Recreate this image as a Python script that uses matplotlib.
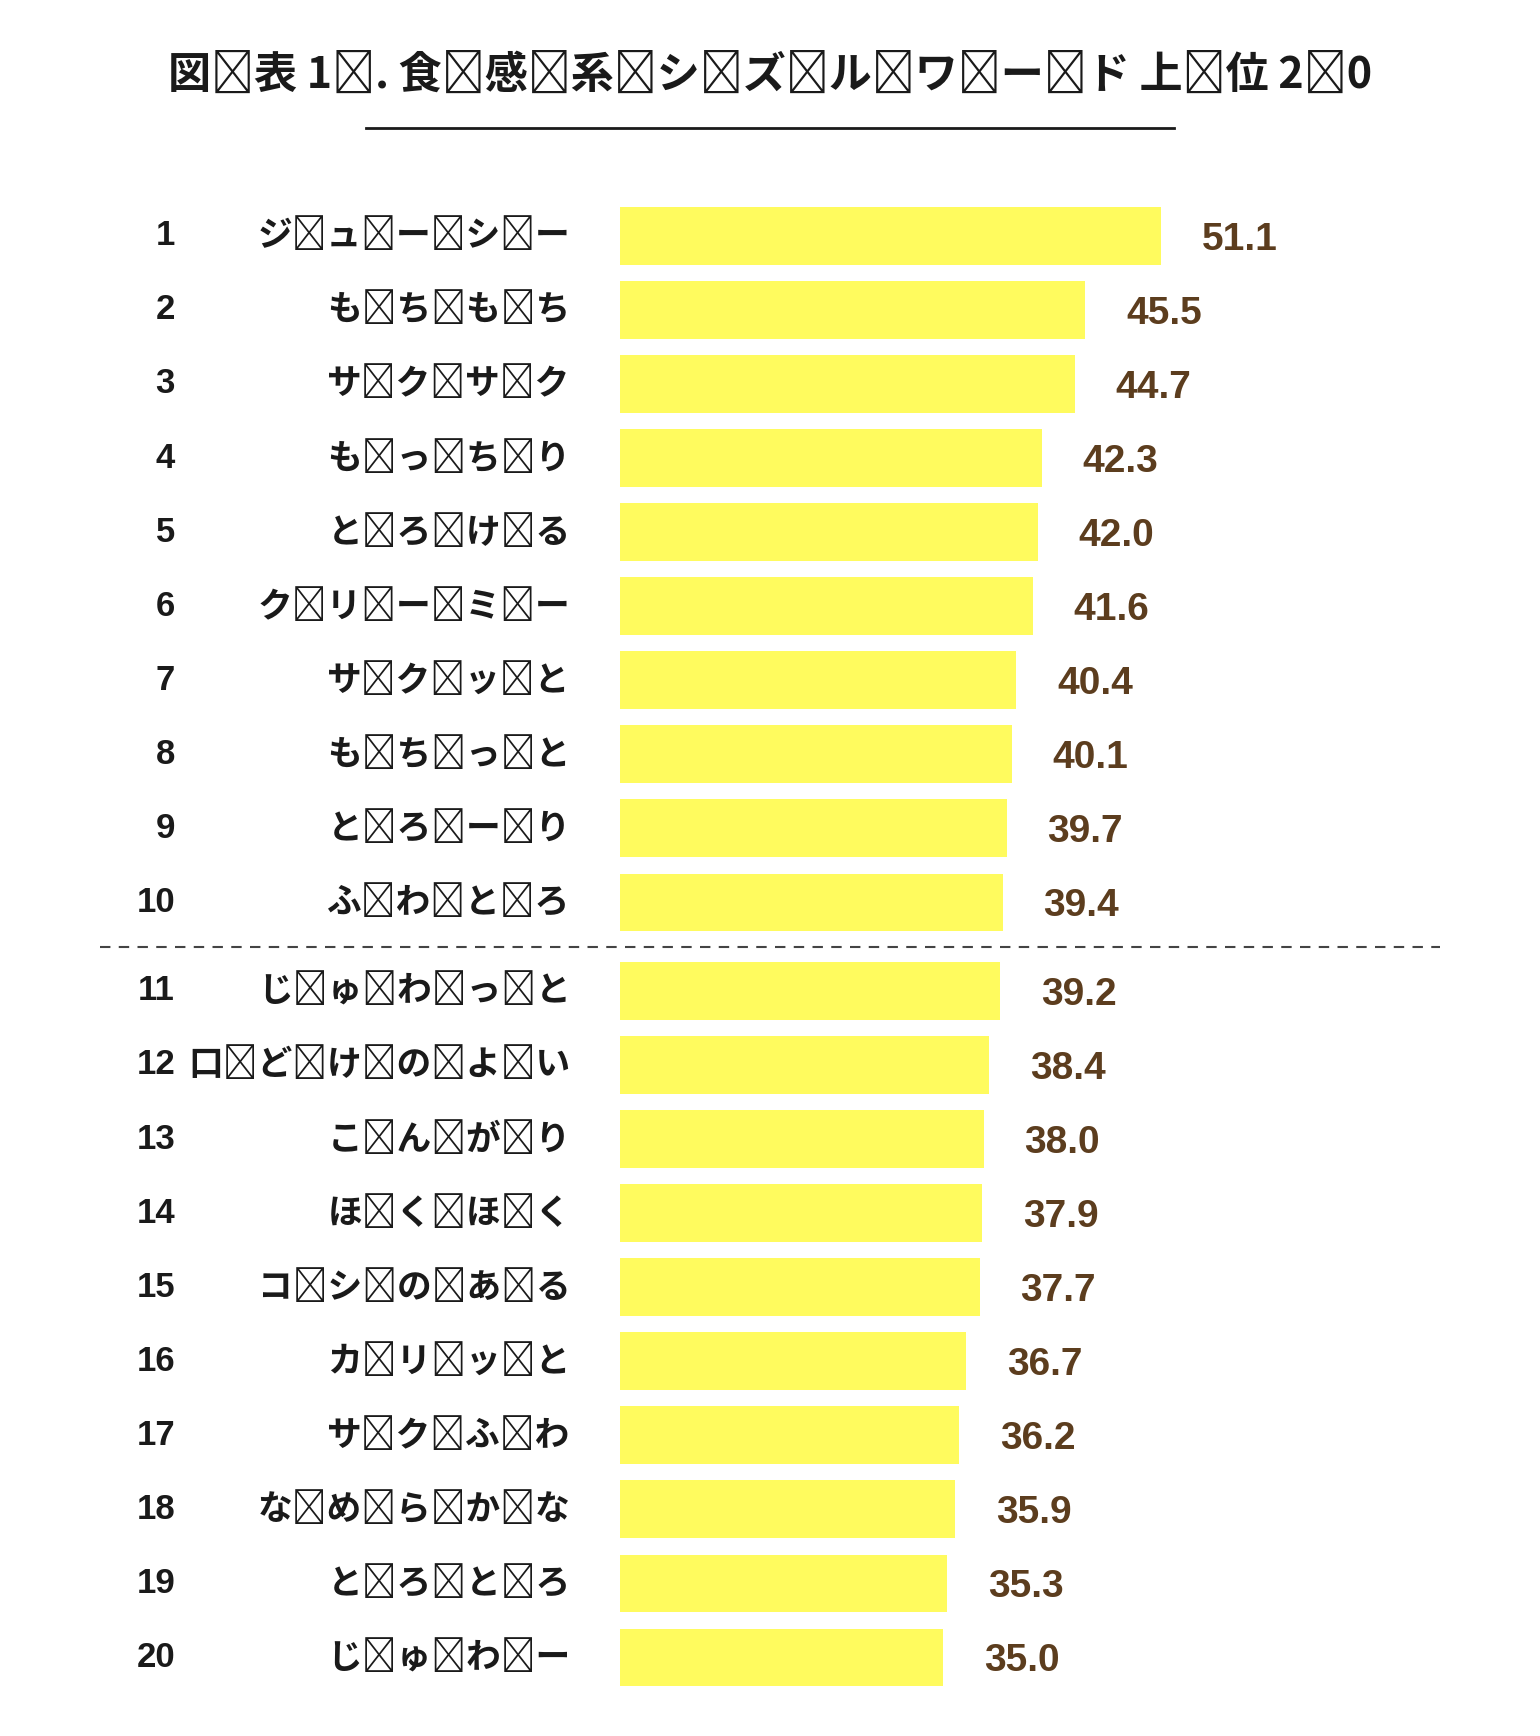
import matplotlib.pyplot as plt
import matplotlib.transforms as mtrans

plt.rcParams['font.family'] = 'Noto Sans CJK JP'

title = "図表 1. 食感系シズルワード 上位 20"
ranks = [str(i) for i in range(1, 21)]
words = ["ジューシー", "もちもち", "サクサク", "もっちり", "とろける",
         "クリーミー", "サクッと", "もちっと", "とろーり", "ふわとろ",
         "じゅわっと", "口どけのよい", "こんがり", "ほくほく", "コシのある",
         "カリッと", "サクふわ", "なめらかな", "とろとろ", "じゅわー"]
values = [51.1, 45.5, 44.7, 42.3, 42.0, 41.6, 40.4, 40.1, 39.7, 39.4,
          39.2, 38.4, 38.0, 37.9, 37.7, 36.7, 36.2, 35.9, 35.3, 35.0]

W, H = 1390, 1568  # layout reference units
fig = plt.figure(figsize=(15.4, 17.36), dpi=100)
ax = fig.add_axes([560 / W, 0, 1 - 560 / W, 1])
ax.set_xlim(11.23, 79.0)
ax.set_ylim(H / 66.9, 0)
ax.axis('off')

ypos = [(213 + i * 66.9 + (13 if i >= 10 else 0)) / 66.9 for i in range(len(values))]
left = 11.23
ax.barh(ypos, [v - left for v in values], left=left, height=0.78,
        color='#fffb5e', edgecolor='none')

num_font = 'Liberation Sans'
trans = mtrans.blended_transform_factory(fig.transFigure, ax.transData)
for y, r, w, v in zip(ypos, ranks, words, values):
    ax.text(158 / W, y, r, transform=trans, ha='right', va='center',
            fontsize=25, fontweight='bold', color='#1a1a1a', family=num_font)
    ax.text(515 / W, y, '\u2009'.join(w), transform=trans, ha='right', va='center',
            fontsize=25, fontweight='bold', color='#1a1a1a')
    ax.text(v + 3.0, y + 0.05, f"{v:.1f}", ha='left', va='center',
            fontsize=28, fontweight='bold', color='#5c3d1e', family=num_font)

# dashed separator between top 10 and the rest
sep = (ypos[9] + ypos[10]) / 2
ax.plot([90 / W, 1300 / W], [sep, sep], transform=trans, color='#444444',
        lw=1.5, ls=(0, (5, 4)), clip_on=False)

fig.text(0.5, 1 - 68 / H, '\u2009'.join(title).replace('\u2009 \u2009', ' '),
         ha='center', va='center', fontsize=31,
         fontweight='bold', color='#1a1a1a')
fig.add_artist(plt.Line2D([330 / W, 1060 / W], [1 - 116 / H, 1 - 116 / H],
                          transform=fig.transFigure, color='#1a1a1a', lw=2))

fig.savefig('out.png', dpi=100, facecolor='white')
